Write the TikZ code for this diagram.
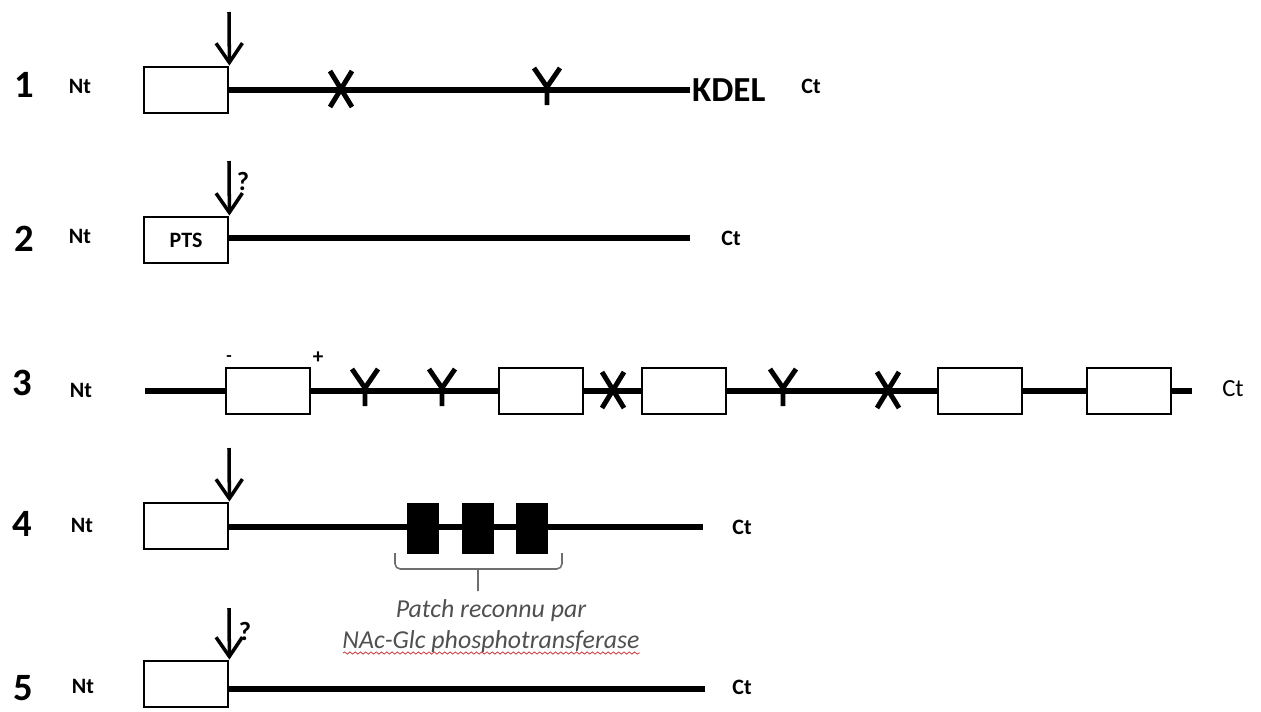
\documentclass[tikz,border=0pt]{standalone}
\usepackage{fontspec}
\setmainfont{Carlito}
\usepackage{xcolor}
\usetikzlibrary{arrows.meta, positioning, decorations.pathmorphing}
\definecolor{patchgray}{RGB}{80, 80, 80}
\definecolor{bracegray}{RGB}{110, 110, 110}
\definecolor{spellred}{RGB}{205, 70, 70}

\tikzset{
    seqbox/.style={draw, line width=1.6pt, fill=white, minimum width=1.68cm, minimum height=0.92cm, inner sep=0pt},
    patchbox/.style={fill=black, minimum width=0.63cm, minimum height=1.02cm, inner sep=0pt},
    chain/.style={line width=3.4pt},
    cleave/.style={line width=2pt, -{Straight Barb[length=11pt, width=15pt, line width=2pt]}},
    rownum/.style={font=\fontsize{22}{22}\selectfont\bfseries},
    term/.style={font=\fontsize{12.5}{12.5}\selectfont\bfseries},
    query/.style={font=\fontsize{15}{15}\selectfont\bfseries, inner sep=0pt},
    crossx/.pic={\draw[line width=2.8pt] (-11,-19) -- (11,17) (11,-19) -- (-11,17);},
    glyco/.pic={\draw[line width=2.8pt] (-13,-22) -- (0,-3) -- (13,-22) (0,-3) -- (0,15);}
}

\begin{document}
\begin{tikzpicture}[x=0.02cm, y=-0.02cm]
    \useasboundingbox (0,0) rectangle (1261,711);

    % protein 1
    \node[rownum] (n1) at (24,85) {1};
    \node[term] (nt1) at (80,86) {Nt};
    \node[seqbox] (b1) at (186,90) {};
    \coordinate (e1) at (690,90);
    \draw[chain] (b1.east) -- (e1);
    \pic at (341,90) {crossx};
    \pic at (547,90) {glyco};
    \node[font=\fontsize{20}{20}\selectfont\bfseries, anchor=west, inner sep=1pt] (kdel) at (e1) {KDEL};
    \node[term] (ct1) at (811,86) {Ct};
    \coordinate (a1) at (229,12);
    \draw[cleave] (a1) -- (b1.north east);

    % protein 2
    \node[rownum] (n2) at (24,239) {2};
    \node[term] (nt2) at (80,236) {Nt};
    \node[seqbox, font=\fontsize{12.5}{12.5}\selectfont\bfseries] (b2) at (186,240) {PTS};
    \coordinate (e2) at (690,238);
    \draw[chain] (b2.east |- e2) -- (e2);
    \node[term] (ct2) at (731,238) {Ct};
    \coordinate (a2) at (229,161);
    \draw[cleave] (a2) -- (b2.north east);
    \node[query] (q2) at (243,181) {?};

    % protein 3
    \node[rownum] (n3) at (22,383) {3};
    \node[term] (nt3) at (81,390) {Nt};
    \coordinate (s3) at (145,391);
    \node[seqbox] (c1) at (268,391) {};
    \node[seqbox] (c2) at (541,391) {};
    \node[seqbox] (c3) at (684,391) {};
    \node[seqbox] (c4) at (980,391) {};
    \node[seqbox] (c5) at (1129,391) {};
    \coordinate (e3) at (1192,391);
    \draw[chain] (s3) -- (c1.west |- s3);
    \draw[chain] (c1.east |- s3) -- (c2.west |- s3);
    \draw[chain] (c2.east |- s3) -- (c3.west |- s3);
    \draw[chain] (c3.east |- s3) -- (c4.west |- s3);
    \draw[chain] (c4.east |- s3) -- (c5.west |- s3);
    \draw[chain] (c5.east |- s3) -- (e3);
    \pic at (365,391) {glyco};
    \pic at (442,391) {glyco};
    \pic at (613,391) {crossx};
    \pic at (783,391) {glyco};
    \pic at (888,391) {crossx};
    \node[font=\bfseries\normalsize, inner sep=0pt] (minus) at (229,359) {-};
    \node[font=\bfseries\large, inner sep=0pt] (plus) at (318,358) {+};
    \node[font=\fontsize{14}{14}\selectfont] (ct3) at (1233,389) {Ct};

    % protein 4
    \node[rownum] (n4) at (22,524) {4};
    \node[term] (nt4) at (82,525) {Nt};
    \node[seqbox] (b4) at (186,526) {};
    \coordinate (e4) at (703,527);
    \draw[chain] (b4.east |- e4) -- (e4);
    \node[patchbox] (p1) at (423,528) {};
    \node[patchbox] (p2) at (478,528) {};
    \node[patchbox] (p3) at (532,528) {};
    \node[term] (ct4) at (742,527) {Ct};
    \coordinate (a4) at (229,448);
    \draw[cleave] (a4) -- (b4.north east);
    % brace under the patch
    \coordinate (bl) at (395,553);
    \coordinate (br) at (562,553);
    \coordinate (bt) at (478,591);
    \draw[bracegray, line width=0.9pt, rounded corners=3pt]
        (bl) |- (478,569) -| (br) (478,569) -- (bt);
    \node[font=\fontsize{14.7}{17.5}\selectfont\itshape, text=patchgray, align=center] (patch) at (491,626)
        {Patch reconnu par\\NAc-Glc phosphotransferase};
    \draw[spellred, line width=0.5pt, decorate, decoration={snake, amplitude=0.6pt, segment length=3pt}]
        (343,653) -- (640,653);

    % protein 5
    \node[rownum] (n5) at (23,688) {5};
    \node[term] (nt5) at (83,686) {Nt};
    \node[seqbox] (b5) at (186,684) {};
    \coordinate (e5) at (705,689);
    \draw[chain] (b5.east |- e5) -- (e5);
    \node[term] (ct5) at (742,687) {Ct};
    \coordinate (a5) at (229,608);
    \draw[cleave] (a5) -- (b5.north east);
    \node[query] (q5) at (245,631) {?};
\end{tikzpicture}
\end{document}
